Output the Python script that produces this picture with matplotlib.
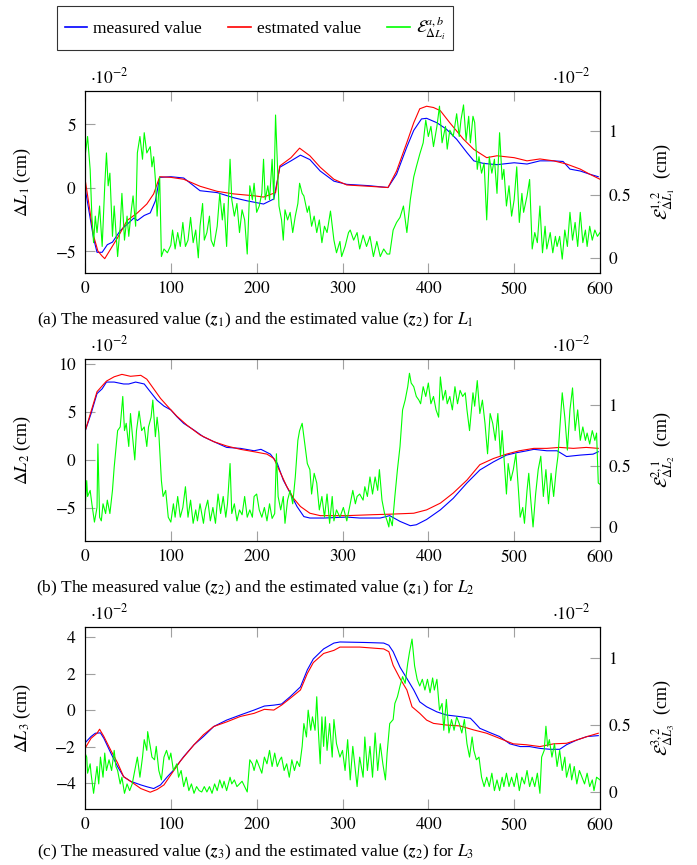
import matplotlib
matplotlib.use("Agg")
import matplotlib.pyplot as plt
from matplotlib.lines import Line2D

plt.rcParams['font.family'] = 'serif'
plt.rcParams['font.serif'] = ['Liberation Serif', 'DejaVu Serif']
plt.rcParams['mathtext.fontset'] = 'stix'

# ---------------- Panel (a): L1 ----------------
a_meas_x = [0, 5, 10, 14, 20, 26, 32, 41, 49, 57, 61, 69, 76, 82, 87, 100, 115, 134, 154, 173, 189, 208, 220, 227,
            240, 251, 262, 274, 290, 305, 330, 353, 363, 375, 383, 392, 398, 410, 421, 433, 445, 453, 464, 480,
            500, 515, 530, 546, 557, 565, 577, 588, 598]
a_meas_y = [0.0, -2.0, -4.0, -5.1, -5.1, -4.5, -4.3, -3.4, -2.9, -2.4, -2.6, -2.2, -2.0, -1.05, 0.8, 0.85, 0.75,
            -0.25, -0.4, -0.8, -1.05, -1.3, -0.9, 1.6, 2.1, 2.55, 2.2, 1.3, 0.5, 0.25, 0.15, 0.0, 1.05, 3.2, 4.5,
            5.4, 5.45, 5.1, 4.6, 3.8, 2.75, 2.1, 1.9, 1.8, 1.95, 1.85, 2.1, 2.1, 2.05, 1.45, 1.3, 1.05, 0.85]
a_est_x = [0, 5, 10, 15, 20, 23, 38, 49, 61, 72, 80, 87, 100, 115, 134, 154, 173, 197, 208, 222, 227, 240, 250,
           262, 274, 290, 305, 330, 353, 363, 375, 383, 390, 398, 406, 414, 425, 441, 453, 468, 480, 500, 515,
           530, 546, 561, 577, 588, 600]
a_est_y = [0.7, -1.5, -3.8, -5.0, -5.4, -5.6, -3.95, -2.6, -2.0, -1.3, -0.5, 0.85, 0.8, 0.65, 0.1, -0.3, -0.5,
           -0.65, -0.75, -0.4, 1.7, 2.35, 3.1, 2.5, 1.6, 0.65, 0.2, 0.1, 0.0, 1.3, 3.55, 5.1, 6.2, 6.4, 6.3, 6.05,
           5.1, 3.8, 3.0, 2.35, 2.5, 2.35, 2.1, 2.25, 2.1, 1.85, 1.45, 1.05, 0.65]
a_err_x = [0, 3, 6, 8, 10, 12, 14, 17, 20, 23, 25, 27, 29, 32, 34, 38, 41, 43, 46, 49, 51, 54, 56, 59, 61, 64, 67,
           69, 72, 76, 78, 80, 82, 84, 87, 89, 92, 96, 100, 102, 105, 108, 111, 114, 117, 120, 123, 126, 129, 132,
           134, 137, 139, 142, 145, 147, 150, 154, 157, 160, 162, 165, 169, 171, 174, 177, 180, 183, 186, 189,
           192, 195, 197, 200, 203, 206, 208, 210, 213, 215, 218, 220, 222, 224, 226, 229, 231, 233, 236, 239,
           242, 245, 248, 250, 253, 255, 259, 261, 264, 267, 270, 273, 276, 279, 282, 286, 290, 293, 297, 299,
           303, 307, 309, 313, 317, 320, 324, 328, 332, 336, 340, 344, 348, 352, 355, 359, 363, 367, 371, 375,
           379, 383, 386, 390, 394, 397, 400, 403, 406, 410, 413, 416, 420, 422, 425, 429, 433, 436, 438, 441,
           444, 447, 449, 452, 454, 457, 459, 462, 465, 468, 471, 474, 477, 480, 483, 486, 488, 491, 494, 497,
           500, 503, 506, 509, 511, 515, 518, 521, 524, 527, 530, 533, 536, 538, 542, 545, 548, 550, 553, 556,
           559, 562, 565, 568, 571, 574, 577, 580, 583, 585, 588, 591, 594, 597, 600]
a_err_y = [0.8, 0.96, 0.7, 0.33, 0.12, 0.33, 0.2, 0.41, 0.09, 0.57, 0.83, 0.57, 0.67, 0.17, 0.41, 0.01, 0.25,
           0.51, 0.14, 0.33, 0.17, 0.38, 0.49, 0.25, 0.83, 0.96, 0.78, 0.99, 0.83, 0.88, 0.72, 0.8, 0.62, 0.33,
           0.64, 0.01, 0.07, 0.04, 0.1, 0.22, 0.07, 0.2, 0.09, 0.28, 0.09, 0.14, 0.32, 0.12, 0.22, 0.0, 0.25,
           0.43, 0.14, 0.2, 0.33, 0.14, 0.09, 0.25, 0.51, 0.3, 0.43, 0.09, 0.78, 0.46, 0.33, 0.43, 0.2, 0.38,
           0.3, 0.03, 0.57, 0.46, 0.59, 0.36, 0.41, 0.51, 0.78, 0.46, 0.57, 0.46, 0.78, 0.46, 1.13, 0.78, 0.41,
           0.3, 0.14, 0.38, 0.3, 0.36, 0.2, 0.33, 0.43, 0.59, 0.51, 0.49, 0.36, 0.41, 0.25, 0.33, 0.2, 0.3, 0.12,
           0.25, 0.2, 0.37, 0.14, 0.04, 0.13, 0.01, 0.09, 0.2, 0.22, 0.14, 0.2, 0.07, 0.18, 0.09, 0.17,
           0.01, 0.13, 0.01, 0.07, 0.03, 0.03, 0.22, 0.28, 0.32, 0.41, 0.2, 0.46, 0.64, 0.72, 0.82, 0.91, 1.09,
           0.96, 1.04, 0.88, 1.04, 1.2, 0.91, 1.04, 0.86, 1.01, 0.96, 1.14, 0.96, 1.09, 1.21, 0.93, 1.12, 0.91,
           1.12, 1.07, 0.7, 0.8, 0.67, 0.75, 0.3, 0.8, 0.67, 0.78, 0.51, 0.99, 0.62, 0.7, 0.41, 0.57, 0.33, 0.46,
           0.72, 0.28, 0.51, 0.36, 0.49, 0.62, 0.07, 0.2, 0.12, 0.41, 0.04, 0.25, 0.07, 0.2, 0.04, 0.17, 0.09,
           0.17, -0.01, 0.22, 0.09, 0.36, 0.14, 0.28, 0.09, 0.36, 0.12, 0.22, 0.09, 0.25, 0.14, 0.22, 0.17, 0.2]

# ---------------- Panel (b): L2 ----------------
b_meas_x = [0, 7, 14, 20, 25, 34, 45, 51, 59, 69, 76, 84, 92, 100, 107, 115, 127, 138, 150, 165, 181, 197, 205,
            216, 224, 231, 239, 247, 255, 262, 278, 305, 320, 344, 355, 367, 379, 386, 398, 414, 429, 445, 460,
            476, 491, 503, 515, 523, 538, 550, 561, 577, 592, 598]
b_meas_y = [2.95, 4.8, 6.9, 7.4, 8.1, 8.1, 7.9, 7.9, 8.1, 7.9, 7.1, 6.2, 5.6, 5.2, 4.5, 3.8, 3.1, 2.4, 1.9, 1.3,
            1.2, 0.95, 1.1, 0.6, -0.35, -2.1, -3.45, -4.85, -5.9, -6.05, -6.05, -5.95, -6.05, -6.05, -5.8, -6.4,
            -6.85, -6.75, -6.2, -5.2, -4.0, -2.4, -1.05, -0.2, 0.5, 0.75, 0.95, 1.1, 0.95, 0.95, 0.35, 0.5, 0.6,
            0.85]
b_est_x = [0, 14, 25, 34, 43, 53, 65, 72, 80, 88, 96, 107, 119, 134, 150, 165, 181, 197, 212, 220, 228, 235, 243,
           251, 262, 274, 290, 305, 336, 355, 383, 398, 414, 429, 445, 460, 476, 491, 506, 523, 538, 553, 569,
           584, 598]
b_est_y = [2.95, 7.1, 8.2, 8.65, 8.9, 8.7, 8.8, 8.4, 7.4, 6.4, 5.6, 4.55, 3.6, 2.6, 1.9, 1.45, 1.1, 0.85, 0.6,
           0.15, -1.4, -2.75, -4.0, -4.85, -5.55, -5.8, -5.8, -5.8, -5.7, -5.65, -5.55, -5.2, -4.5, -3.45, -2.1,
           -0.5, 0.15, 0.6, 0.95, 1.2, 1.2, 1.3, 1.2, 1.3, 1.2]
b_err_x = [0, 2, 3, 6, 8, 11, 14, 15, 17, 19, 21, 24, 26, 29, 32, 34, 38, 41, 44, 46, 48, 51, 53, 55, 58, 60, 63,
           66, 69, 72, 74, 77, 79, 82, 84, 86, 89, 91, 94, 97, 100, 103, 105, 108, 111, 114, 117, 120, 123, 126,
           129, 131, 134, 138, 140, 143, 146, 149, 152, 155, 158, 161, 164, 166, 169, 171, 174, 177, 180, 183,
           186, 189, 192, 195, 197, 200, 203, 206, 209, 212, 215, 218, 221, 223, 225, 228, 231, 233, 236, 239,
           242, 245, 248, 250, 253, 255, 259, 262, 264, 267, 270, 273, 276, 279, 282, 285, 288, 290, 293, 297,
           301, 305, 309, 312, 315, 317, 320, 324, 326, 329, 332, 335, 338, 341, 343, 346, 349, 352, 354, 355,
           358, 361, 364, 367, 370, 373, 376, 378, 380, 383, 386, 389, 391, 394, 397, 400, 403, 406, 409, 412,
           414, 417, 420, 422, 425, 428, 431, 434, 437, 440, 443, 445, 448, 452, 454, 457, 460, 463, 466, 469,
           472, 475, 478, 481, 484, 486, 488, 491, 493, 496, 499, 502, 505, 507, 510, 512, 515, 517, 519, 522,
           525, 528, 531, 534, 537, 540, 543, 546, 549, 551, 553, 556, 559, 562, 565, 568, 571, 574, 577, 580,
           583, 585, 588, 591, 594, 596, 598, 600]
b_err_y = [0.14, 0.38, 0.25, 0.3, 0.19, 0.04, 0.16, 0.68, 0.08, 0.05, 0.19, 0.11, 0.22, 0.11, 0.3, 0.49, 0.79,
           0.82, 1.07, 0.79, 0.85, 0.66, 0.93, 0.77, 0.55, 0.79, 0.95, 0.79, 0.82, 0.66, 0.82, 0.9, 1.04, 0.74,
           0.9, 0.77, 0.38, 0.25, 0.3, 0.08, 0.04, 0.19, 0.08, 0.25, 0.08, 0.16, 0.33, 0.08, 0.22, 0.03, 0.14,
           0.05, 0.19, 0.03, 0.14, 0.22, 0.05, 0.16, 0.03, 0.27, 0.11, 0.25, 0.08, 0.19, 0.52, 0.11, 0.19, 0.05,
           0.14, 0.1, 0.25, 0.08, 0.14, 0.08, 0.25, 0.27, 0.14, 0.08, 0.16, 0.05, 0.19, 0.07, 0.11, 0.6, 0.25,
           0.14, 0.25, 0.03, 0.22, 0.3, 0.19, 0.41, 0.71, 0.79, 0.85, 0.74, 0.52, 0.47, 0.27, 0.44, 0.36, 0.14,
           0.25, 0.08, 0.27, 0.03, 0.25, 0.05, 0.14, 0.08, 0.16, 0.05, 0.19, 0.3, 0.19, 0.25, 0.27, 0.22, 0.33,
           0.25, 0.41, 0.27, 0.41, 0.3, 0.47, 0.22, 0.11, 0.05, 0.0, 0.08, 0.01, 0.25, 0.47, 0.66, 0.96, 1.04,
           1.15, 1.26, 1.18, 1.15, 1.07, 1.04, 1.01, 1.15, 1.07, 1.18, 1.01, 1.07, 0.96, 0.9, 1.23, 1.04, 1.12,
           1.01, 1.07, 0.96, 1.15, 1.01, 1.12, 1.07, 1.1, 0.96, 0.79, 1.1, 0.99, 1.2, 0.93, 1.04, 0.85, 0.6, 0.93,
           0.85, 0.71, 0.93, 0.58, 0.79, 0.58, 0.27, 0.52, 0.38, 0.47, 0.6, 0.3, 0.08, 0.16, 0.03, 0.3, 0.44,
           0.25, 0.0, 0.27, 0.47, 0.58, 0.25, 0.47, 0.19, 0.44, 0.25, 0.47, 0.58, 0.79, 1.1, 0.9, 0.63, 0.96,
           1.14, 0.79, 0.96, 0.71, 0.82, 0.71, 0.77, 0.68, 0.79, 0.71, 0.77, 0.36, 0.35]

# ---------------- Panel (c): L3 ----------------
c_meas_x = [0, 7, 12, 18, 22, 30, 38, 45, 53, 65, 72, 80, 88, 96, 103, 115, 127, 138, 150, 165, 181, 197, 209,
            220, 229, 239, 251, 259, 266, 278, 290, 297, 328, 348, 354, 359, 367, 375, 383, 390, 398, 410, 421,
            437, 449, 453, 460, 472, 483, 495, 507, 518, 530, 542, 553, 561, 573, 585, 598]
c_meas_y = [-1.8, -1.45, -1.27, -1.25, -1.55, -2.35, -3.1, -3.65, -3.9, -4.1, -4.2, -4.3, -4.1, -3.65, -3.3,
            -2.55, -1.9, -1.45, -0.9, -0.55, -0.27, 0.0, 0.22, 0.27, 0.33, 0.73, 1.27, 2.2, 2.8, 3.35, 3.67, 3.73,
            3.7, 3.67, 3.55, 3.2, 2.35, 1.73, 1.1, 0.45, 0.18, -0.1, -0.27, -0.36, -0.45, -0.64, -1.0, -1.24,
            -1.45, -1.85, -2.0, -2.0, -2.1, -2.15, -2.15, -1.9, -1.64, -1.45, -1.4]
c_est_x = [0, 7, 14, 17, 22, 30, 38, 45, 53, 65, 76, 84, 92, 100, 111, 127, 138, 150, 165, 181, 197, 209, 220,
           229, 239, 251, 259, 266, 278, 290, 297, 320, 348, 354, 359, 367, 375, 381, 390, 398, 406, 421, 437,
           453, 468, 483, 499, 514, 530, 546, 561, 573, 585, 598]
c_est_y = [-2.1, -1.55, -1.27, -1.05, -1.45, -2.2, -2.9, -3.65, -3.9, -4.3, -4.5, -4.35, -4.1, -3.55, -2.8,
           -1.9, -1.35, -0.9, -0.65, -0.35, -0.18, 0.04, 0.0, 0.27, 0.64, 1.1, 2.0, 2.6, 3.1, 3.27, 3.45, 3.45,
           3.35, 3.2, 2.45, 1.73, 1.1, 0.18, -0.18, -0.55, -0.73, -0.82, -0.87, -1.09, -1.27, -1.55, -1.85, -1.9,
           -2.0, -1.85, -1.82, -1.64, -1.45, -1.27]
c_err_x = [0, 2, 3, 6, 7, 10, 12, 14, 16, 18, 21, 23, 25, 28, 31, 34, 36, 38, 41, 43, 46, 49, 52, 55, 58, 61, 64,
           67, 69, 72, 73, 76, 78, 81, 83, 86, 89, 92, 95, 98, 100, 103, 107, 109, 112, 115, 118, 121, 124, 127,
           130, 133, 136, 139, 142, 145, 148, 151, 154, 157, 160, 162, 165, 169, 171, 174, 177, 180, 183, 186,
           189, 192, 195, 197, 200, 203, 206, 209, 212, 215, 218, 221, 224, 227, 229, 232, 235, 238, 241, 244,
           247, 250, 253, 255, 258, 260, 263, 265, 268, 270, 272, 274, 276, 278, 280, 282, 285, 288, 290, 293,
           297, 300, 303, 306, 309, 312, 315, 317, 320, 324, 326, 329, 332, 335, 338, 341, 344, 347, 350, 352,
           355, 359, 361, 364, 367, 370, 373, 376, 378, 381, 384, 387, 390, 393, 396, 399, 402, 405, 407, 410,
           413, 416, 418, 421, 424, 427, 430, 433, 436, 439, 442, 445, 448, 451, 453, 456, 459, 462, 465, 468,
           471, 474, 477, 480, 483, 486, 488, 491, 494, 497, 500, 503, 506, 509, 512, 515, 518, 521, 524, 527,
           530, 532, 535, 537, 539, 541, 544, 547, 550, 553, 556, 559, 561, 565, 567, 570, 573, 576, 579, 582,
           585, 588, 591, 593, 596, 600]
c_err_y = [0.29, 0.26, 0.14, 0.21, 0.14, -0.01, 0.09, 0.19, 0.06, 0.26, 0.11, 0.29, 0.16, 0.24, 0.16, 0.31,
           0.19, 0.16, 0.06, 0.11, -0.01, 0.06, 0.01, 0.06, 0.16, 0.26, 0.11, 0.26, 0.39, 0.31, 0.45, 0.34, 0.26,
           0.24, 0.34, 0.16, 0.09, 0.26, 0.31, 0.24, 0.29, 0.16, 0.21, 0.11, 0.16, 0.04, 0.11, 0.01, 0.06, -0.01,
           0.04, 0.01, 0.0, 0.04, 0.0, 0.04, -0.01, 0.06, 0.01, 0.09, 0.03, 0.08, 0.01, 0.11, 0.06, 0.09, 0.04,
           0.06, 0.08, 0.04, 0.0, 0.24, 0.21, 0.16, 0.24, 0.19, 0.14, 0.26, 0.21, 0.31, 0.19, 0.29, 0.19, 0.24,
           0.26, 0.16, 0.21, 0.11, 0.24, 0.16, 0.23, 0.19, 0.34, 0.51, 0.41, 0.61, 0.46, 0.56, 0.46, 0.71, 0.44,
           0.21, 0.56, 0.34, 0.56, 0.31, 0.51, 0.26, 0.54, 0.36, 0.26, 0.31, 0.16, 0.39, 0.09, 0.34, 0.16, 0.04,
           0.26, 0.11, 0.41, 0.16, 0.34, 0.11, 0.44, 0.16, 0.36, 0.21, 0.09, 0.29, 0.51, 0.54, 0.66, 0.71, 0.79,
           0.86, 0.81, 0.96, 1.04, 1.14, 0.94, 0.84, 0.79, 0.84, 0.76, 0.84, 0.74, 0.85, 0.76, 0.84, 0.61, 0.66,
           0.46, 0.69, 0.44, 0.54, 0.46, 0.56, 0.51, 0.44, 0.54, 0.36, 0.26, 0.41, 0.31, 0.24, 0.26, 0.11, 0.04,
           0.11, 0.04, 0.14, 0.01, 0.09, 0.01, 0.11, 0.04, 0.14, 0.04, 0.11, 0.04, 0.14, 0.01, 0.11, 0.06, 0.16,
           0.04, 0.11, 0.04, 0.14, -0.01, 0.26, 0.31, 0.49, 0.34, 0.39, 0.26, 0.36, 0.19, 0.31, 0.16, 0.26, 0.11,
           0.21, 0.09, 0.19, 0.06, 0.16, 0.11, 0.06, 0.14, 0.04, 0.09, 0.01, 0.11, 0.09]

x_ticks = [0, 100, 200, 300, 400, 500, 600]

panels = [
    dict(mx=a_meas_x, my=a_meas_y, ex=a_est_x, ey=a_est_y, gx=a_err_x, gy=a_err_y,
         ylim=(-6.73, 7.6), yticks=[-5, 0, 5], rlim=(-0.12, 1.32), rticks=[0, 0.5, 1],
         ylabel=r'$\Delta L_1$ (cm)', rlabel=r'$\mathcal{E}^{1,2}_{\Delta L_1}$  (cm)',
         top=91, bottom=273,
         caption=r'(a) The measured value ($\boldsymbol{z}_1$) and the estimated value ($\boldsymbol{z}_2$) for $L_1$',
         cap_y=320),
    dict(mx=b_meas_x, my=b_meas_y, ex=b_est_x, ey=b_est_y, gx=b_err_x, gy=b_err_y,
         ylim=(-8.44, 10.5), yticks=[-5, 0, 5, 10], rlim=(-0.115, 1.377), rticks=[0, 0.5, 1],
         ylabel=r'$\Delta L_2$ (cm)', rlabel=r'$\mathcal{E}^{2,1}_{\Delta L_2}$  (cm)',
         top=359, bottom=541,
         caption=r'(b) The measured value ($\boldsymbol{z}_2$) and the estimated value ($\boldsymbol{z}_1$) for $L_2$',
         cap_y=588),
    dict(mx=c_meas_x, my=c_meas_y, ex=c_est_x, ey=c_est_y, gx=c_err_x, gy=c_err_y,
         ylim=(-5.42, 4.55), yticks=[-4, -2, 0, 2, 4], rlim=(-0.127, 1.23), rticks=[0, 0.5, 1],
         ylabel=r'$\Delta L_3$ (cm)', rlabel=r'$\mathcal{E}^{3,2}_{\Delta L_3}$  (cm)',
         top=627, bottom=809,
         caption=r'(c) The measured value ($\boldsymbol{z}_3$) and the estimated value ($\boldsymbol{z}_2$) for $L_3$',
         cap_y=852),
]

W, H = 697, 865
fig = plt.figure(figsize=(W / 100, H / 100), dpi=100)

FS = 12.5
tick_col = '#a0a0a0'
lw = 0.8


def fmt(v):
    if v == int(v):
        return r'$%d$' % int(v)
    return r'$%g$' % v


for p in panels:
    left, right = 85, 600
    ax = fig.add_axes([left / W, 1 - p['bottom'] / H, (right - left) / W, (p['bottom'] - p['top']) / H])
    ax.plot(p['mx'], p['my'], color='#0000ff', lw=lw)
    ax.plot(p['ex'], p['ey'], color='#ff0000', lw=lw)
    ax.set_xlim(0, 600)
    ax.set_ylim(*p['ylim'])
    ax.set_xticks(x_ticks)
    ax.set_xticklabels([fmt(v) for v in x_ticks], fontsize=FS)
    ax.set_yticks(p['yticks'])
    ax.set_yticklabels([fmt(v) for v in p['yticks']], fontsize=FS)
    ax.tick_params(axis='both', direction='in', length=7, width=0.8, color=tick_col, pad=6)
    ax.tick_params(axis='x', top=True)
    ax.set_ylabel(p['ylabel'], fontsize=FS + 0.5)
    ax.yaxis.set_label_coords(-0.101, 0.5)
    for s in ax.spines.values():
        s.set_linewidth(0.8)

    ax2 = ax.twinx()
    ax2.plot(p['gx'], p['gy'], color='#00ff00', lw=lw)
    ax2.set_ylim(*p['rlim'])
    ax2.set_yticks(p['rticks'])
    ax2.set_yticklabels([fmt(v) for v in p['rticks']], fontsize=FS)
    ax2.tick_params(axis='y', direction='in', length=7, width=0.8, color=tick_col, pad=6)
    ax2.set_ylabel(p['rlabel'], fontsize=FS + 0.5, rotation=90)
    ax2.yaxis.set_label_coords(1.097, 0.5)
    ax2.set_xlim(0, 600)

    ytxt = 1 - (p['top'] - 14) / H
    fig.text(90 / W, ytxt, r'$\cdot 10^{-2}$', fontsize=FS, ha='left', va='center')
    fig.text(591 / W, ytxt, r'$\cdot 10^{-2}$', fontsize=FS, ha='right', va='center')
    fig.text(255 / W, 1 - p['cap_y'] / H, p['caption'], fontsize=FS, ha='center', va='center')

handles = [Line2D([], [], color='#0000ff', lw=1.2),
           Line2D([], [], color='#ff0000', lw=1.2),
           Line2D([], [], color='#00ff00', lw=1.2)]
labels = ['measured value', 'estmated value', r'$\mathcal{E}^{a,b}_{\Delta L_i}$']
leg = fig.legend(handles, labels, loc='center', bbox_to_anchor=(255 / W, 1 - 28 / H), ncol=3,
                 fontsize=FS, frameon=True, fancybox=False, edgecolor='black', handlelength=1.3,
                 columnspacing=1.5, handletextpad=0.35, borderpad=0.45)
leg.get_frame().set_linewidth(0.8)

fig.savefig('out.png', dpi=100)
